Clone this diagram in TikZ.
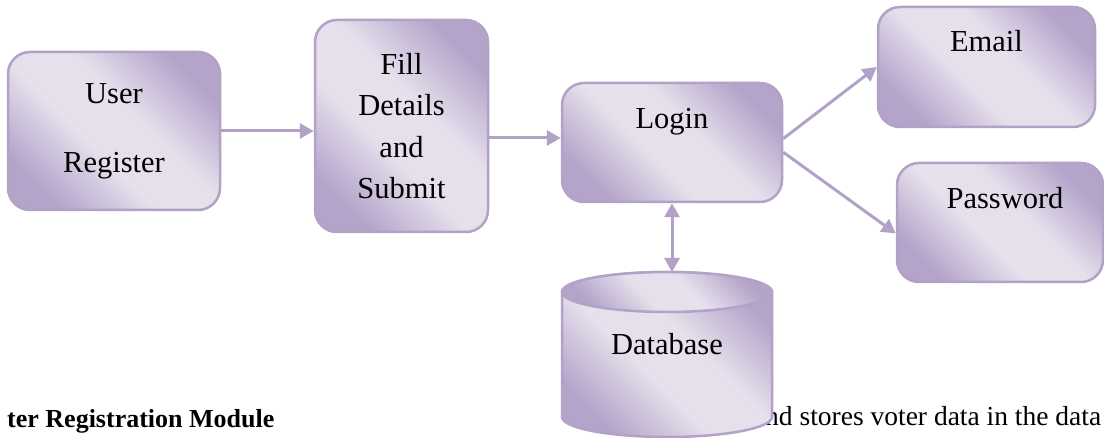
\documentclass[tikz,border=0pt]{standalone}
\usepackage{fontspec}
\setmainfont{Liberation Serif}
\usetikzlibrary{arrows.meta,calc}

\definecolor{lavline}{HTML}{B3A2C7}
\definecolor{lavlight}{HTML}{E6E0EC}
\definecolor{lavdark}{HTML}{B4A4CA}
\pgfdeclarehorizontalshading{lavshade}{100bp}{color(0bp)=(lavdark); color(25bp)=(lavdark); color(43bp)=(lavlight); color(57bp)=(lavlight); color(75bp)=(lavdark); color(100bp)=(lavdark)}

\tikzset{
  flowbox/.style={draw=lavline, line width=2.5pt, rounded corners=22pt,
    shading=lavshade, shading angle=45, align=center, inner sep=0pt,
    font=\fontsize{30.5}{41.5}\selectfont},
  boxtext/.style={anchor=base, font=\fontsize{30.5}{41.5}\selectfont},
  flow/.style={draw=lavline, line width=3pt, -{Triangle[length=14pt,width=15pt]}},
  flowboth/.style={draw=lavline, line width=3pt,
    {Triangle[length=14pt,width=15pt]}-{Triangle[length=14pt,width=15pt]}},
}

\begin{document}
\begin{tikzpicture}[x=1pt, y=-1pt]
            \useasboundingbox (0,0) rectangle (1104,438);
            \def\dbrx{105}
            \def\dbry{20}

            % Boxes of the flow
            \node[flowbox, minimum width=212pt, minimum height=158pt] (user) at (114,131) {User\\[27.5pt]Register};
            \node[flowbox, minimum width=173pt, minimum height=212pt] (fill) at (401.5,126) {Fill\\Details\\and\\Submit};
            \node[flowbox, minimum width=220pt, minimum height=119pt] (login) at (672,142.5) {};
            \node[flowbox, minimum width=217pt, minimum height=120pt] (email) at (986.5,67) {};
            \node[flowbox, minimum width=206pt, minimum height=119pt] (pass) at (1000,222.5) {};

            % Texts near the top of the boxes
            \node[boxtext] (logintxt) at ($(login.north)+(0,47)$) {Login};
            \node[boxtext] (emailtxt) at ($(email.north)+(0,46)$) {Email};
            \node[boxtext] (passtxt) at ($(pass.north)+(5,47)$) {Password};

            % Page text behind the database
            \node[anchor=base west, inner sep=0pt, font=\fontsize{26}{30}\selectfont\bfseries] (modtitle) at (7,428) {ter Registration Module};
            \node[anchor=base west, inner sep=0pt, font=\fontsize{27.5}{30}\selectfont] (bodytext) at (765,425) {nd stores voter data in the data};

            % Database cylinder
            \path[draw=lavline, line width=2.5pt, shading=lavshade, shading angle=45]
            (562,292) -- (562,417)
            arc[start angle=180, end angle=0, x radius=\dbrx, y radius=\dbry]
            -- (772,292)
            arc[start angle=0, end angle=-180, x radius=\dbrx, y radius=\dbry]
            -- cycle;
            \path[draw=lavline, line width=2.5pt, shading=lavshade, shading angle=45]
            (667,292) ellipse[x radius=\dbrx, y radius=\dbry];
            \node[boxtext] (db) at (667,355) {Database};
            \coordinate (dbtop) at (672,272);

            % Connectors
            \draw[flow] (user.east) -- (user.east -| fill.west);
            \coordinate (fillout) at ($(fill.east)+(0,12)$);
            \draw[flow] (fillout) -- (fillout -| login.west);
            \draw[flow] (login.2) -- (email.west);
            \draw[flow] (login.-5) -- (pass.186);
            \draw[flowboth] (login.south) -- (dbtop);
        \end{tikzpicture}
\end{document}
